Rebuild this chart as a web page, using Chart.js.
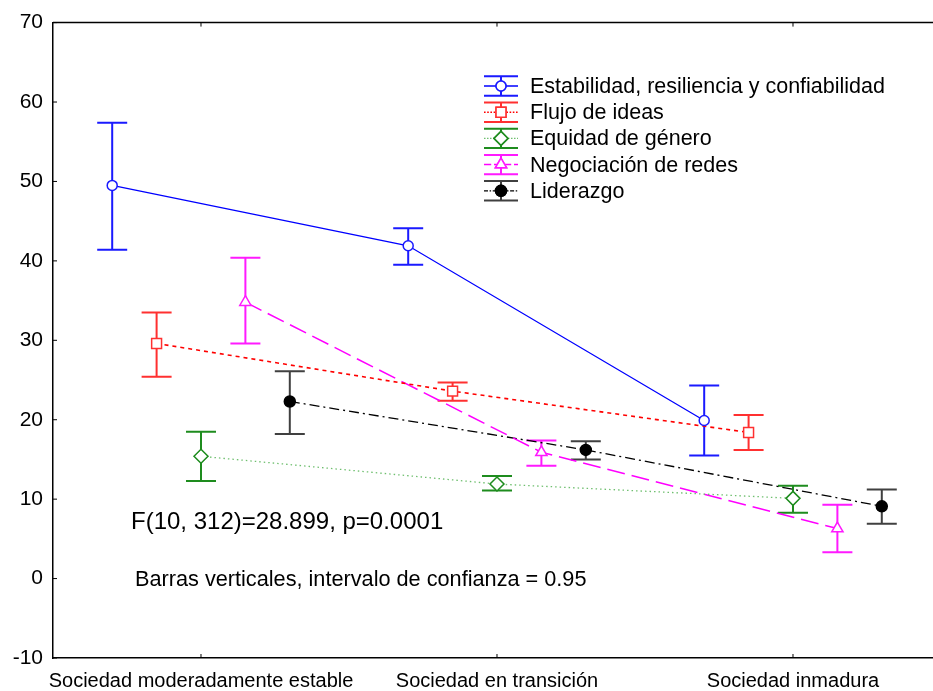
<!DOCTYPE html>
<html>
<head>
<meta charset="utf-8">
<script src="https://cdn.jsdelivr.net/npm/chart.js@4/dist/chart.umd.min.js"></script>
<style>
  html, body { margin: 0; padding: 0; background: #fff; overflow: hidden; }
  #wrap { width: 933px; height: 691px; }
</style>
</head>
<body>
<div id="wrap"><canvas id="c" width="933" height="691"></canvas></div>
<script>
// ---- data ----
const categories = ['Sociedad moderadamente estable', 'Sociedad en transición', 'Sociedad inmadura'];
const seriesNames = ['Estabilidad, resiliencia y confiabilidad', 'Flujo de ideas', 'Equidad de género', 'Negociación de redes', 'Liderazgo'];
const yTicks = [-10, 0, 10, 20, 30, 40, 50, 60, 70];

const estabilidad     = [49.5, 41.9, 19.9];
const estabilidadLow  = [41.4, 39.5, 15.5];
const estabilidadHigh = [57.4, 44.1, 24.3];

const flujo     = [29.6, 23.6, 18.4];
const flujoLow  = [25.4, 22.4, 16.2];
const flujoHigh = [33.5, 24.7, 20.6];

const equidad     = [15.4, 11.9, 10.1];
const equidadLow  = [12.3, 11.1, 8.3];
const equidadHigh = [18.5, 12.9, 11.7];

const negociacion     = [34.8, 15.9, 6.3];
const negociacionLow  = [29.6, 14.2, 3.3];
const negociacionHigh = [40.4, 17.4, 9.3];

const liderazgo     = [22.3, 16.2, 9.1];
const liderazgoLow  = [18.2, 15.0, 6.9];
const liderazgoHigh = [26.1, 17.3, 11.2];

const statText = 'F(10, 312)=28.899, p=0.0001';
const noteText = 'Barras verticales, intervalo de confianza = 0.95';

// ---- styles ----
const DODGE = 0.15;
const FONT = "'Liberation Sans', Arial, Helvetica, sans-serif";
const styles = [
  { line: '#0000ff', bar: '#1a1aff', dash: [],           lw: 1.3, point: 'circle',   r: 5,   fill: '#ffffff' },
  { line: '#ff0000', bar: '#ff3030', dash: [4, 4],        lw: 1.6, point: 'rect',     r: 7,   fill: '#ffffff' },
  { line: '#6fbf6f', bar: '#1e8c1e', dash: [1.5, 3],      lw: 1.3, point: 'rectRot',  r: 7,   fill: '#ffffff' },
  { line: '#ff00ff', bar: '#ff1aff', dash: [18, 7],       lw: 1.5, point: 'triangle', r: 6.5, fill: '#ffffff' },
  { line: '#000000', bar: '#404040', dash: [10, 4, 2, 4], lw: 1.3, point: 'circle',   r: 5.5, fill: '#000000' }
];
const means = [estabilidad, flujo, equidad, negociacion, liderazgo];
const lows  = [estabilidadLow, flujoLow, equidadLow, negociacionLow, liderazgoLow];
const highs = [estabilidadHigh, flujoHigh, equidadHigh, negociacionHigh, liderazgoHigh];

const datasets = means.map((vals, k) => {
  const s = styles[k];
  return {
    label: seriesNames[k],
    data: vals.map((v, i) => ({ x: i + (k - 2) * DODGE, y: v })),
    borderColor: s.line,
    borderWidth: s.lw,
    borderDash: s.dash,
    pointStyle: s.point,
    pointRadius: s.r,
    pointBackgroundColor: s.fill,
    pointBorderColor: k === 4 ? '#000' : s.bar,
    pointBorderWidth: 1.5,
    fill: false,
    tension: 0,
    errLow: lows[k],
    errHigh: highs[k],
    barColor: s.bar
  };
});

const errorBars = {
  id: 'errorBars',
  beforeDatasetsDraw(chart) {
    const ctx = chart.ctx;
    const ys = chart.scales.y;
    chart.data.datasets.forEach((ds, k) => {
      const meta = chart.getDatasetMeta(k);
      meta.data.forEach((pt, j) => {
        const x = pt.x;
        const y1 = ys.getPixelForValue(ds.errLow[j]);
        const y2 = ys.getPixelForValue(ds.errHigh[j]);
        ctx.save();
        ctx.strokeStyle = ds.barColor;
        ctx.lineWidth = 2;
        ctx.setLineDash([]);
        ctx.beginPath();
        ctx.moveTo(x, y1); ctx.lineTo(x, y2);
        ctx.moveTo(x - 15, y1); ctx.lineTo(x + 15, y1);
        ctx.moveTo(x - 15, y2); ctx.lineTo(x + 15, y2);
        ctx.stroke();
        ctx.restore();
      });
    });
  },
  afterDraw(chart) {
    const ctx = chart.ctx;
    const a = chart.chartArea;
    const xs = chart.scales.x, ys = chart.scales.y;
    ctx.save();
    // top frame line
    ctx.strokeStyle = '#000'; ctx.lineWidth = 1.5; ctx.setLineDash([]);
    ctx.beginPath(); ctx.moveTo(a.left, a.top); ctx.lineTo(a.right, a.top); ctx.stroke();
    // inward ticks
    ctx.lineWidth = 1;
    ctx.beginPath();
    [0, 1, 2].forEach(v => {
      const px = xs.getPixelForValue(v);
      ctx.moveTo(px, a.bottom); ctx.lineTo(px, a.bottom - 4);
      ctx.moveTo(px, a.top); ctx.lineTo(px, a.top + 4);
    });
    yTicks.forEach(v => {
      const py = ys.getPixelForValue(v);
      ctx.moveTo(a.left, py); ctx.lineTo(a.left + 4, py);
    });
    ctx.stroke();

    // annotations
    ctx.fillStyle = '#000';
    ctx.textBaseline = 'middle';
    ctx.textAlign = 'left';
    ctx.font = '24px ' + FONT;
    ctx.fillText(statText, 131, 522);
    ctx.font = '21.7px ' + FONT;
    ctx.fillText(noteText, 135, 580);

    // legend
    const lx = 501, ly0 = 86, dy = 26.2;
    chart.data.datasets.forEach((ds, k) => {
      const s = styles[k];
      const cy = ly0 + k * dy;
      ctx.strokeStyle = s.bar; ctx.lineWidth = 2; ctx.setLineDash([]);
      ctx.beginPath();
      ctx.moveTo(lx, cy - 9.7); ctx.lineTo(lx, cy + 9.7);
      ctx.moveTo(lx - 17, cy - 9.7); ctx.lineTo(lx + 17, cy - 9.7);
      ctx.moveTo(lx - 17, cy + 9.7); ctx.lineTo(lx + 17, cy + 9.7);
      ctx.stroke();
      ctx.strokeStyle = s.line; ctx.lineWidth = s.lw; ctx.setLineDash(s.dash.length ? s.dash.map(d => Math.max(1.5, d * 0.4)) : []);
      ctx.beginPath(); ctx.moveTo(lx - 17, cy); ctx.lineTo(lx + 17, cy); ctx.stroke();
      ctx.setLineDash([]);
      ctx.fillStyle = s.fill; ctx.strokeStyle = k === 4 ? '#000' : s.bar; ctx.lineWidth = 1.5;
      Chart.helpers.drawPoint(ctx, { pointStyle: s.point, radius: s.r, rotation: 0, borderWidth: 1.5 }, lx, cy);
      ctx.fill(); ctx.stroke();
      ctx.fillStyle = '#000';
      ctx.font = '21.5px ' + FONT;
      ctx.fillText(ds.label, 530, cy + 1);
    });
    ctx.restore();
  }
};

new Chart(document.getElementById('c'), {
  type: 'line',
  data: { datasets },
  plugins: [errorBars],
  options: {
    responsive: false,
    animation: false,
    layout: { autoPadding: false, padding: { top: 20, left: 0, right: 0, bottom: 0 } },
    plugins: { legend: { display: false }, tooltip: { enabled: false } },
    scales: {
      x: {
        type: 'linear',
        min: -0.5,
        max: 2.473,
        afterBuildTicks: (s) => { s.ticks = categories.map((c, i) => ({ value: i })); },
        afterFit: (s) => { s.height = 33; },
        grid: { display: false, drawTicks: false },
        border: { display: true, color: '#000', width: 1.5 },
        ticks: {
          autoSkip: false, maxRotation: 0, padding: 11,
          color: '#000', font: { size: 20, family: FONT },
          callback: (v) => categories[v] !== undefined ? categories[v] : ''
        }
      },
      y: {
        type: 'linear',
        min: -10, max: 70,
        afterBuildTicks: (s) => { s.ticks = yTicks.map(v => ({ value: v })); },
        afterFit: (s) => { s.width = 53; },
        grid: { display: false, drawTicks: false },
        border: { display: true, color: '#000', width: 1.5 },
        ticks: { padding: 10, color: '#000', font: { size: 21, family: FONT } }
      }
    }
  }
});
</script>
</body>
</html>
